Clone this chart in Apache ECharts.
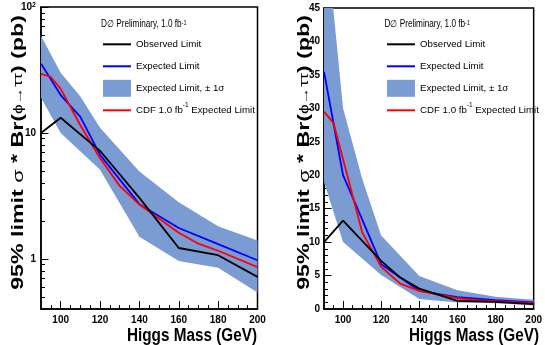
<!DOCTYPE html>
<html><head><meta charset="utf-8">
<script src="https://cdn.jsdelivr.net/npm/echarts@6/dist/echarts.min.js"></script>
<style>html,body{margin:0;padding:0;background:#fff}#c{width:545px;height:345px}</style>
</head><body><div id="c"></div>
<script>
// ---- data ----
const obsMass   = [90, 100, 120, 130, 140, 160, 180, 200];
const obsLimit  = [10, 13.2, 7.2, 4.7, 3.05, 1.22, 1.07, 0.72];
const expMass   = [90, 100, 110, 120, 140, 160, 180, 200];
const expLimit  = [35.5, 20, 13.4, 6.7, 2.72, 1.76, 1.31, 0.975];
const cdfMass   = [90, 95, 100, 110, 120, 130, 140, 160, 170, 180, 200];
const cdfLimit  = [29.5, 27.8, 22.4, 11.5, 6.3, 3.8, 2.7, 1.61, 1.32, 1.16, 0.86];
const bandUpMass = [90, 100, 110, 120, 140, 160, 180, 200];
const bandUp     = [59, 30, 19.5, 11, 4.95, 2.82, 1.82, 1.40];
const bandLoMass = [90, 100, 120, 140, 160, 180, 200];
const bandLo     = [19, 10, 5.1, 1.5, 0.96, 0.85, 0.54];

const xMajorTicks = [100, 120, 140, 160, 180, 200];
const xMinorTicks = [95, 105, 110, 115, 125, 130, 135, 145, 150, 155, 165, 170, 175, 185, 190, 195];
const logMajorTicks = [1, 10, 100];
const logMinorTicks = [0.4, 0.5, 0.6, 0.7, 0.8, 0.9, 2, 3, 4, 5, 6, 7, 8, 9, 20, 30, 40, 50, 60, 70, 80, 90];
const linMajorTicks = [0, 5, 10, 15, 20, 25, 30, 35, 40, 45];
const linMinorTicks = [1,2,3,4,6,7,8,9,11,12,13,14,16,17,18,19,21,22,23,24,26,27,28,29,31,32,33,34,36,37,38,39,41,42,43,44];

const NAME_OBS = 'Observed Limit', NAME_EXP = 'Expected Limit',
      NAME_BAND = 'Expected Limit, \u00b1 1\u03c3', NAME_CDF = 'CDF 1.0 fb^-1 Expected Limit';
const X_TITLE = 'Higgs Mass (GeV)';
const Y_TITLE = '95% limit {g|\u03c3} * Br({s|\u03d5\u2192\u03c4\u03c4}) (pb)';
const LEGEND_HEADER = 'D\u2205 Preliminary, 1.0 fb{sup|-1}';

const BAND = '#7b9bd3';
const FONT = '"Liberation Sans", Arial, Helvetica, sans-serif';
const pairs = (m, v) => m.map((x, i) => [x, v[i]]);
const LINE_ICON = 'path://M0,0H28V2H0Z';

function bandRender(params, api) {
  if (params.dataIndex !== 0) return;
  const pts = [];
  bandUpMass.forEach((m, i) => pts.push(api.coord([m, bandUp[i]])));
  for (let i = bandLoMass.length - 1; i >= 0; i--) pts.push(api.coord([bandLoMass[i], bandLo[i]]));
  return { type: 'polygon', shape: { points: pts }, style: { fill: BAND } };
}

const labelStyle = { fontFamily: FONT, fontSize: 10, fontWeight: 'bold', color: '#000' };

function xAxes(grid) {
  return [
    { gridIndex: grid, type: 'value', min: 90, max: 200, position: 'bottom',
      axisLine: { lineStyle: { color: '#000', width: 1.5 } },
      axisTick: { inside: true, length: 8, customValues: xMajorTicks, lineStyle: { color: '#000', width: 1 } },
      axisLabel: Object.assign({ customValues: xMajorTicks, margin: 6 }, labelStyle),
      splitLine: { show: false } },
    { gridIndex: grid, type: 'value', min: 90, max: 200, position: 'bottom',
      axisLine: { show: false },
      axisTick: { inside: true, length: 4, customValues: xMinorTicks, lineStyle: { color: '#000', width: 1 } },
      axisLabel: { show: false }, splitLine: { show: false } }
  ];
}

function titleTexts(k) {
  const yx = k === 0 ? 19 : 305;
  const xr = k === 0 ? 257 : 539;
  return [
    { type: 'text', x: yx, y: 152.5, rotation: Math.PI / 2, scaleX: 1.45, scaleY: 1,
      style: { text: Y_TITLE, fontFamily: FONT, fontSize: 16, fontWeight: 'bold', fill: '#000',
        align: 'center', verticalAlign: 'middle',
        rich: { g: { fontFamily: FONT, fontSize: 15, fontWeight: 'normal', fill: '#000' },
                s: { fontFamily: FONT, fontSize: 12, fontWeight: 'normal', fill: '#000' } } } },
    { type: 'text', x: xr, y: 336.5, scaleX: 1, scaleY: 1.15,
      style: { text: X_TITLE, fontFamily: FONT, fontSize: 15.3, fontWeight: 'bold', fill: '#000',
        align: 'right', verticalAlign: 'middle' } },
    { type: 'text', x: k === 0 ? 101 : 384.5, y: 24.5, scaleX: 1, scaleY: 1.25,
      style: { text: LEGEND_HEADER, fontFamily: FONT, fontSize: 8.2, fill: '#000',
        verticalAlign: 'middle',
        rich: { sup: { fontFamily: FONT, fontSize: 5.5, fill: '#000', verticalAlign: 'top' } } } }
  ];
}

const option = {
  animation: false,
  backgroundColor: '#fff',
  grid: [
    { left: 41, top: 7, width: 216.5, height: 302, show: true, borderColor: '#000', borderWidth: 1.5, backgroundColor: 'transparent' },
    { left: 324, top: 8, width: 217, height: 301, show: true, borderColor: '#000', borderWidth: 1.5, backgroundColor: 'transparent' }
  ],
  xAxis: xAxes(0).concat(xAxes(1)),
  yAxis: [
    { gridIndex: 0, type: 'log', logBase: 10, min: 0.4, max: 100, position: 'left',
      axisLine: { lineStyle: { color: '#000', width: 1.5 } },
      axisTick: { inside: true, length: 7.5, customValues: logMajorTicks, lineStyle: { color: '#000', width: 1 } },
      axisLabel: Object.assign({ customValues: logMajorTicks, margin: 5,
        formatter: v => (v === 100 ? '10{s|2}' : String(v)),
        rich: { s: { fontFamily: FONT, fontSize: 7, fontWeight: 'bold', color: '#000', verticalAlign: 'top' } } }, labelStyle),
      splitLine: { show: false } },
    { gridIndex: 0, type: 'log', logBase: 10, min: 0.4, max: 100, position: 'left',
      axisLine: { show: false },
      axisTick: { inside: true, length: 4, customValues: logMinorTicks, lineStyle: { color: '#000', width: 1 } },
      axisLabel: { show: false }, splitLine: { show: false } },
    { gridIndex: 1, type: 'value', min: 0, max: 45, position: 'left',
      axisLine: { lineStyle: { color: '#000', width: 1.5 } },
      axisTick: { inside: true, length: 7.5, customValues: linMajorTicks, lineStyle: { color: '#000', width: 1 } },
      axisLabel: Object.assign({ customValues: linMajorTicks, margin: 4 }, labelStyle),
      splitLine: { show: false } },
    { gridIndex: 1, type: 'value', min: 0, max: 45, position: 'left',
      axisLine: { show: false },
      axisTick: { inside: true, length: 4, customValues: linMinorTicks, lineStyle: { color: '#000', width: 1 } },
      axisLabel: { show: false }, splitLine: { show: false } }
  ],
  legend: [0, 1].map(k => ({
    orient: 'vertical', left: k === 0 ? 103 : 387, top: 35.8, padding: 0,
    itemWidth: 28, itemHeight: 17, itemGap: 5, selectedMode: false,
    textStyle: { fontFamily: FONT, fontSize: 9.7, color: '#000', lineHeight: 17, height: 17, verticalAlign: 'middle',
      rich: { sup: { fontFamily: FONT, fontSize: 6.5, color: '#000', verticalAlign: 'top', lineHeight: 13 } } },
    formatter: n => (n === NAME_CDF ? 'CDF 1.0 fb{sup|-1} Expected Limit' : n),
    data: [{ name: NAME_OBS, icon: LINE_ICON }, { name: NAME_EXP, icon: LINE_ICON },
           { name: NAME_BAND, icon: 'rect' }, { name: NAME_CDF, icon: LINE_ICON }]
  })),
  graphic: titleTexts(0).concat(titleTexts(1)),
  series: []
};

[0, 1].forEach(k => {
  const xi = k * 2, yi = k * 2;
  option.series.push(
    { name: NAME_BAND, type: 'custom', xAxisIndex: xi, yAxisIndex: yi, clip: true,
      renderItem: bandRender, data: [[150, 5]], encode: { x: 0, y: 1 },
      itemStyle: { color: BAND }, color: BAND, silent: true },
    { name: NAME_EXP, type: 'line', xAxisIndex: xi, yAxisIndex: yi, data: pairs(expMass, expLimit),
      symbol: 'none', color: '#0000ff', itemStyle: { color: '#0000ff', borderWidth: 0 },
      lineStyle: { color: '#0000ff', width: 1.8 } },
    { name: NAME_CDF, type: 'line', xAxisIndex: xi, yAxisIndex: yi, data: pairs(cdfMass, cdfLimit),
      symbol: 'none', color: '#ff0000', itemStyle: { color: '#ff0000', borderWidth: 0 },
      lineStyle: { color: '#ff0000', width: 1.8 } },
    { name: NAME_OBS, type: 'line', xAxisIndex: xi, yAxisIndex: yi, data: pairs(obsMass, obsLimit),
      symbol: 'none', color: '#000000', itemStyle: { color: '#000000', borderWidth: 0 },
      lineStyle: { color: '#000000', width: 1.8 } }
  );
});

const chart = echarts.init(document.getElementById('c'), null, { renderer: 'canvas' });
chart.setOption(option);
</script>
</body></html>
